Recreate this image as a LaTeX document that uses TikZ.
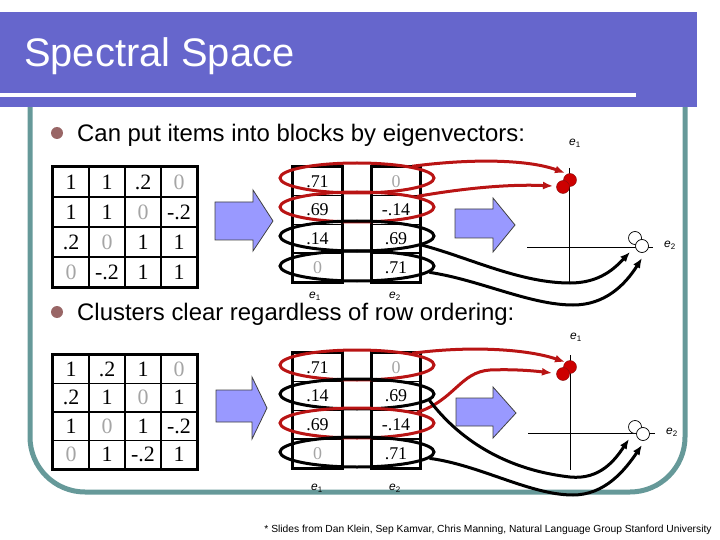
\documentclass[tikz,border=0pt]{standalone}
\usepackage{fontspec}
\setmainfont{Liberation Sans}
\newfontfamily\tmsfont{Liberation Serif}
\usetikzlibrary{arrows.meta,shapes.geometric}
\definecolor{slideblue}{RGB}{102,102,204}
\definecolor{frameteal}{RGB}{102,153,153}
\definecolor{ringred}{RGB}{185,20,20}
\definecolor{dotred}{RGB}{205,0,0}
\definecolor{bulletrose}{RGB}{153,102,102}
\definecolor{arrowfill}{RGB}{153,153,255}
\definecolor{zerogray}{RGB}{165,165,165}
\newcommand{\zg}{\textcolor{zerogray}{0}}
\newcommand{\ev}[1]{\textit{e}\textsubscript{#1}}

\begin{document}
\begin{tikzpicture}[x=1bp,y=-1bp,
  mcell/.style={draw,line width=1.5bp,minimum width=36bp,minimum height=30bp,inner sep=0pt,
    font=\tmsfont\fontsize{22}{22}\selectfont},
  ecell/.style={draw,line width=1.5bp,minimum width=49bp,minimum height=28.75bp,inner sep=0pt,
    font=\tmsfont\fontsize{18}{18}\selectfont},
  ring/.style={ellipse,draw,line width=3bp,minimum width=154bp,minimum height=30bp,inner sep=0pt},
  link/.style={line width=3bp,-{Latex[length=10bp,width=8bp]}},
  blockarr/.style={draw=black!75,line width=0.8bp,fill=arrowfill},
  reddot/.style={circle,draw=ringred!70!black,fill=dotred,minimum size=13bp,inner sep=0pt},
  whitedot/.style={circle,draw,fill=white,line width=0.7bp,minimum size=13bp,inner sep=0pt},
  evlabel/.style={font=\fontsize{12}{12}\selectfont,inner sep=0pt},
  bullettext/.style={anchor=base west,inner sep=0pt,font=\fontsize{24}{24}\selectfont},
  bulletdot/.style={circle,fill=bulletrose,minimum size=12bp,inner sep=0pt}
]
  \useasboundingbox (0,0) rectangle (720,540);
  % frame and title bar
  \draw[frameteal,line width=5bp,rounded corners=55bp] (30,107) -- (30,492) -- (685,492) -- (685,107);
  \fill[slideblue] (0,12) rectangle (697,107);
  \draw[white,line width=4bp] (0,95) -- (636,95);
  \node[anchor=base west,text=white,inner sep=0pt,font=\fontsize{40}{40}\selectfont] (title) at (24,67) {Spectral Space};

  % bullets
  \node[bulletdot] (dot1) at (57,133) {};
  \node[bullettext] (text1) at (77,142) {Can put items into blocks by eigenvectors:};
  \node[bulletdot] (dot2) at (57,312) {};
  \node[bullettext] (text2) at (77,320) {Clusters clear regardless of row ordering:};

  % top affinity matrix
  \foreach \a/\b/\c/\d [count=\r] in {1/1/.2/\zg, 1/1/\zg/-.2, .2/\zg/1/1, \zg/-.2/1/1} {
    \node[mcell] (ta\r1) at (71,{152+30*\r}) {\a};
    \node[mcell] (ta\r2) at (107,{152+30*\r}) {\b};
    \node[mcell] (ta\r3) at (143,{152+30*\r}) {\c};
    \node[mcell] (ta\r4) at (179,{152+30*\r}) {\d};
  }
  \draw[line width=3bp] (ta11.north west) rectangle (ta44.south east);

  % bottom affinity matrix
  \foreach \a/\b/\c/\d [count=\r] in {1/.2/1/\zg, .2/1/\zg/1, 1/\zg/1/-.2, \zg/1/-.2/1} {
    \node[mcell,minimum height=28.5bp] (ba\r1) at (71,{340.75+28.5*\r}) {\a};
    \node[mcell,minimum height=28.5bp] (ba\r2) at (107,{340.75+28.5*\r}) {\b};
    \node[mcell,minimum height=28.5bp] (ba\r3) at (143,{340.75+28.5*\r}) {\c};
    \node[mcell,minimum height=28.5bp] (ba\r4) at (179,{340.75+28.5*\r}) {\d};
  }
  \draw[line width=3bp] (ba11.north west) rectangle (ba44.south east);

  % block arrows
  \draw[blockarr] (215,202) -- (253,202) -- (253,190) -- (273,221) -- (253,251) -- (253,240) -- (215,240) -- cycle;
  \draw[blockarr] (455,209) -- (493,209) -- (493,198) -- (515,225) -- (493,252) -- (493,238) -- (455,238) -- cycle;
  \draw[blockarr] (216,390) -- (252,390) -- (252,377) -- (267,408) -- (252,439) -- (252,422) -- (216,422) -- cycle;
  \draw[blockarr] (456,398) -- (493,398) -- (493,387) -- (516,413) -- (493,438) -- (493,426) -- (456,426) -- cycle;

  % top eigenvector table
  \foreach \a/\b [count=\r] in {.71/\zg, .69/-.14, .14/.69, \zg/.71} {
    \node[ecell] (te\r1) at (317.5,{152.6+28.75*\r}) {\a};
    \node[ecell,minimum width=48bp] (te\r2) at (396,{152.6+28.75*\r}) {\b};
  }
  \draw[line width=3bp] (te11.north west) rectangle (te41.south east);
  \draw[line width=3bp] (te12.north west) rectangle (te42.south east);
  \node[evlabel] (te1) at (315,296) {\ev{1}};
  \node[evlabel] (te2) at (395,296) {\ev{2}};

  % bottom eigenvector table
  \foreach \a/\b [count=\r] in {.71/\zg, .14/.69, .69/-.14, \zg/.71} {
    \node[ecell] (be\r1) at (317.5,{338.6+28.75*\r}) {\a};
    \node[ecell,minimum width=48bp] (be\r2) at (396,{338.6+28.75*\r}) {\b};
  }
  \draw[line width=3bp] (be11.north west) rectangle (be41.south east);
  \draw[line width=3bp] (be12.north west) rectangle (be42.south east);
  \node[evlabel] (be1) at (317,488) {\ev{1}};
  \node[evlabel] (be2) at (395,488) {\ev{2}};

  % row rings
  \node[ring,draw=ringred] (tr1) at (357,178) {};
  \node[ring,draw=ringred] (tr2) at (357,207) {};
  \node[ring] (tr3) at (357,236) {};
  \node[ring] (tr4) at (357,266) {};
  \node[ring,draw=ringred] (br1) at (357,365) {};
  \node[ring] (br2) at (357,394) {};
  \node[ring,draw=ringred] (br3) at (357,423) {};
  \node[ring] (br4) at (357,452) {};

  % top plot
  \coordinate (tax1) at (569,168);
  \coordinate (tax2) at (569,283);
  \coordinate (tay1) at (527,247);
  \coordinate (tay2) at (653,247);
  \draw[line width=0.8bp] (tax1) -- (tax2);
  \draw[line width=0.8bp] (tay1) -- (tay2);
  \node[evlabel] (tl1) at (575,143) {\ev{1}};
  \node[evlabel] (tl2) at (670,245) {\ev{2}};
  \node[reddot] (tp1d) at (570,180) {};
  \node[reddot] (tp2d) at (563,187) {};
  \node[whitedot] (tw1) at (635,238) {};
  \node[whitedot] (tw2) at (642,246) {};

  % bottom plot
  \coordinate (bax1) at (570,355);
  \coordinate (bax2) at (570,470);
  \coordinate (bay1) at (528,433);
  \coordinate (bay2) at (655,433);
  \draw[line width=0.8bp] (bax1) -- (bax2);
  \draw[line width=0.8bp] (bay1) -- (bay2);
  \node[evlabel] (bl1) at (576,337) {\ev{1}};
  \node[evlabel] (bl2) at (672,432) {\ev{2}};
  \node[reddot] (bp1d) at (570,367) {};
  \node[reddot] (bp2d) at (563,374) {};
  \node[whitedot] (bw1) at (635,427) {};
  \node[whitedot] (bw2) at (643,434) {};

  % arrow ends
  \coordinate (tp1) at (565,173);
  \coordinate (tp2) at (553,186);
  \coordinate (tq1) at (630,252);
  \coordinate (tq2) at (642,258);
  \coordinate (bp1) at (565,362);
  \coordinate (bp2) at (552,373);
  \coordinate (bq1) at (629,439);
  \coordinate (bq2) at (642,445);

  % links, top
  \draw[link,ringred] (tr1.12) .. controls (475,158) and (530,160) .. (tp1);
  \draw[link,ringred] (tr2.10) .. controls (465,188) and (510,184) .. (tp2);
  \draw[link] (tr3.-8) .. controls (470,258) and (520,283) .. (570,283) .. controls (600,283) and (615,268) .. (tq1);
  \draw[link] (tr4.-5) .. controls (480,280) and (530,305) .. (573,305) .. controls (605,305) and (625,285) .. (tq2);
  % links, bottom
  \draw[link,ringred] (br1.12) .. controls (475,345) and (530,350) .. (bp1);
  \draw[link,ringred] (br3.10) .. controls (455,400) and (460,372) .. (490,370) .. controls (515,369) and (535,371) .. (bp2);
  \draw[link] (br2.-5) .. controls (448,425) and (490,468) .. (570,477) .. controls (600,480) and (615,460) .. (bq1);
  \draw[link] (br4.-5) .. controls (480,465) and (530,495) .. (573,495) .. controls (605,495) and (625,470) .. (bq2);

  \node[font=\fontsize{10.3}{11}\selectfont,inner sep=0pt] (credit) at (488,530)
    {* Slides from Dan Klein, Sep Kamvar, Chris Manning, Natural Language Group Stanford University};
\end{tikzpicture}
\end{document}
